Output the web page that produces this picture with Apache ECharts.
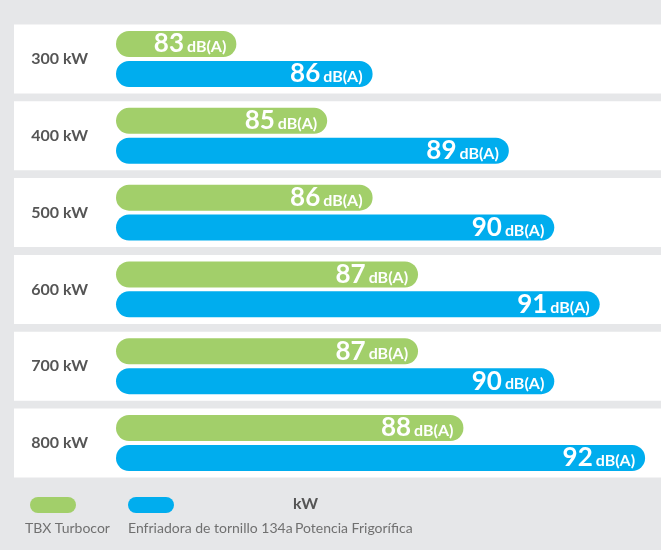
<!DOCTYPE html>
<html>
<head>
<meta charset="utf-8">
<script src="https://cdn.jsdelivr.net/npm/echarts@6/dist/echarts.min.js"></script>
<style>
    html, body { margin: 0; padding: 0; background: #e6e7e9; }
    #chart { width: 661px; height: 550px; }
</style>
</head>
<body>
<div id="chart"></div>
<script>
// Chart data
var categories = ["300 kW", "400 kW", "500 kW", "600 kW", "700 kW", "800 kW"];
var turbocor = [83, 85, 86, 87, 87, 88];
var tornillo = [86, 89, 90, 91, 90, 92];
var rowBands = [1, 1, 1, 1, 1, 1];
var legendNames = ["TBX Turbocor", "Enfriadora de tornillo 134a"];

var GREEN = "#a2cf6a";
var BLUE = "#00adee";
var FONT = "Lato";
var PILL = "path://M8,0 H38 A8,8 0 0 1 38,16 H8 A8,8 0 0 1 8,0 Z";

/**
 * Label with a big number and a smaller unit.
 */
function dbLabel(params) {
    return "{n|" + params.value + "}{u|dB(A)}";
}

var labelStyle = {
    show: true,
    position: "insideRight",
    distance: 10,
    formatter: dbLabel,
    rich: {
        n: { color: "#fff", fontFamily: FONT, fontWeight: "bold", fontSize: 26, lineHeight: 26 },
        u: { color: "#fff", fontFamily: FONT, fontWeight: "bold", fontSize: 16, lineHeight: 26, padding: [6, 0, 0, 3] },
    },
};

var chart = echarts.init(document.getElementById("chart"));

var options = {
    backgroundColor: "#e6e7e9",
    animation: false,
    grid: [
        // row backgrounds
        { left: 14, right: 0, top: 20.6, height: 460.8 },
        // bars
        { left: 116, width: 548, top: 20.6, height: 460.8 },
    ],
    xAxis: [
        { gridIndex: 0, type: "value", min: 0, max: 1, show: false },
        { gridIndex: 1, type: "value", min: 80.35, max: 92.35, show: false },
    ],
    yAxis: [
        { gridIndex: 0, type: "category", data: categories, inverse: true, show: false },
        {
            gridIndex: 1,
            type: "category",
            data: categories,
            inverse: true,
            z: 10,
            axisLine: { show: false },
            axisTick: { show: false },
            axisLabel: {
                margin: 28,
                color: "#555",
                fontFamily: FONT,
                fontWeight: "bold",
                fontSize: 16,
            },
        },
    ],
    legend: {
        left: 25,
        top: 492,
        icon: PILL,
        itemWidth: 46,
        itemHeight: 16,
        itemGap: 52,
        data: legendNames,
        formatter: function () { return ""; },
        selectedMode: false,
    },
    graphic: [
        {
            type: "text", left: 25, top: 521,
            style: { text: legendNames[0], fill: "#707070", font: "14px " + FONT },
        },
        {
            type: "text", left: 128, top: 521,
            style: { text: legendNames[1], fill: "#707070", font: "14px " + FONT },
        },
        {
            type: "text", left: 293, top: 496,
            style: { text: "kW", fill: "#555", font: "bold 16px " + FONT },
        },
        {
            type: "text", left: 295, top: 521,
            style: { text: "Potencia Frigorífica", fill: "#707070", font: "14px " + FONT },
        },
    ],
    series: [
        {
            type: "bar",
            xAxisIndex: 0,
            yAxisIndex: 0,
            data: rowBands,
            barWidth: 69,
            silent: true,
            z: 0,
            itemStyle: { color: "#fff" },
        },
        {
            name: legendNames[0],
            type: "bar",
            xAxisIndex: 1,
            yAxisIndex: 1,
            data: turbocor,
            barWidth: 26,
            barGap: "15%",
            itemStyle: { color: GREEN, borderRadius: 13 },
            label: labelStyle,
        },
        {
            name: legendNames[1],
            type: "bar",
            xAxisIndex: 1,
            yAxisIndex: 1,
            data: tornillo,
            barWidth: 26,
            itemStyle: { color: BLUE, borderRadius: 13 },
            label: labelStyle,
        },
    ],
};

chart.setOption(options);
</script>
</body>
</html>
